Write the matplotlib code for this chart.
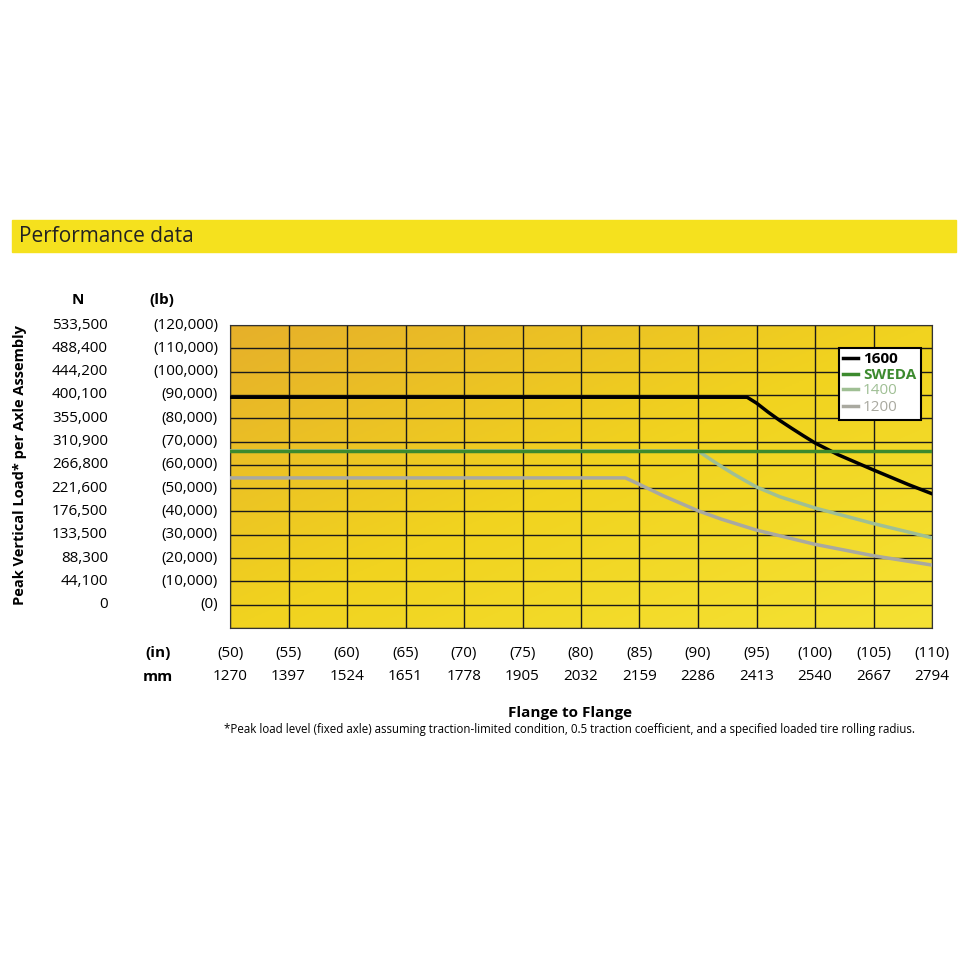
import numpy as np
import matplotlib.pyplot as plt
from matplotlib.colors import LinearSegmentedColormap
from matplotlib.transforms import blended_transform_factory

plt.rcParams['font.family'] = ['Open Sans', 'DejaVu Sans']

inches = [50, 55, 60, 65, 70, 75, 80, 85, 90, 95, 100, 105, 110]
mm = [1270, 1397, 1524, 1651, 1778, 1905, 2032, 2159, 2286, 2413, 2540, 2667, 2794]
lb_ticks = [0, 10000, 20000, 30000, 40000, 50000, 60000, 70000, 80000, 90000, 100000, 110000, 120000]
n_ticks = ['0', '44,100', '88,300', '133,500', '176,500', '221,600', '266,800',
           '310,900', '355,000', '400,100', '444,200', '488,400', '533,500']

x1600 = [50, 94.2, 95, 96, 97, 98, 99, 100, 102, 105, 108, 110]
y1600 = [89000, 89000, 86500, 82600, 79000, 75700, 72500, 69400, 64300, 57800, 51500, 47600]
xsweda = [50, 110]
ysweda = [66000, 66000]
x1400 = [50, 90, 91, 92, 93, 94, 95, 97, 100, 105, 110]
y1400 = [66000, 66000, 62600, 59300, 56200, 53300, 50500, 46300, 41500, 34800, 28700]
x1200 = [50, 83.8, 85, 87, 90, 92, 95, 100, 105, 110]
y1200 = [54400, 54400, 51600, 46800, 40300, 36700, 32000, 25900, 21000, 17000]

fig = plt.figure(figsize=(9.6, 9.6), dpi=100)
fig.patch.set_facecolor('white')

# title banner
fig.patches.append(plt.Rectangle((0.012, 1 - 252/960), 0.984, 32/960, transform=fig.transFigure,
                                 color='#f5e11e', zorder=0))
fig.text(0.02, 1 - 237/960, 'Performance data', fontsize=15, va='center', color='#222222')

ax = fig.add_axes([230/960, 1 - 628/960, 702/960, 303/960])
ax.set_xlim(50, 110)
ax.set_ylim(-10000, 120000)

# background gradient: orange top-left to yellow bottom-right
gx, gy = np.meshgrid(np.linspace(0, 1, 200), np.linspace(0, 1, 200))
g = (gx + gy) / 2
cmap = LinearSegmentedColormap.from_list('bg', ['#e6b02a', '#f1d31f', '#f5e234'])
ax.imshow(g, extent=[50, 110, -10000, 120000], aspect='auto', cmap=cmap, origin='upper', zorder=0)

ax.set_xticks(inches)
ax.set_yticks([-10000] + lb_ticks)
ax.grid(True, color='#1a1a1a', linewidth=1.0, zorder=1)
ax.tick_params(left=False, bottom=False, labelleft=False, labelbottom=False)
for s in ax.spines.values():
    s.set_color('#333333')

ax.plot(x1600, y1600, color='black', lw=2.5, label='1600', zorder=4)
ax.plot(xsweda, ysweda, color='#3c8a2e', lw=2.5, label='SWEDA', zorder=4)
ax.plot(x1400, y1400, color='#9fbf94', lw=2.5, label='1400', zorder=3)
ax.plot(x1200, y1200, color='#a9a9a0', lw=2.5, label='1200', zorder=3)

leg = ax.legend(loc='upper right', bbox_to_anchor=(0.995, 0.95), fancybox=False, framealpha=1,
                edgecolor='black', handlelength=1.0, handletextpad=0.3, borderpad=0.3,
                labelspacing=0.1, fontsize=11)
leg.get_frame().set_linewidth(1.5)
for t, c, w in zip(leg.get_texts(), ['black', '#3c8a2e', '#9fbf94', '#a9a9a0'],
                   ['bold', 'bold', 'normal', 'normal']):
    t.set_color(c)
    t.set_fontweight(w)

# y tick labels, two columns
ty = blended_transform_factory(fig.transFigure, ax.transData)
for v, n in zip(lb_ticks, n_ticks):
    fig.text(108/960, v, n, transform=ty, ha='right', va='center', fontsize=11)
    fig.text(218/960, v, '({:,})'.format(v), transform=ty, ha='right', va='center', fontsize=11)
fig.text(78/960, 1 - 300/960, 'N', ha='center', va='center', fontsize=11, fontweight='bold')
fig.text(162/960, 1 - 300/960, '(lb)', ha='center', va='center', fontsize=11, fontweight='bold')
fig.text(20/960, 1 - 465/960, 'Peak Vertical Load* per Axle Assembly', rotation=90,
         ha='center', va='center', fontsize=10.5, fontweight='bold')

# x tick labels, two rows
tx = blended_transform_factory(ax.transData, fig.transFigure)
for i, m in zip(inches, mm):
    fig.text(i, 1 - 653/960, '({})'.format(i), transform=tx, ha='center', va='center', fontsize=11)
    fig.text(i, 1 - 677/960, str(m), transform=tx, ha='center', va='center', fontsize=11)
fig.text(158/960, 1 - 653/960, '(in)', ha='center', va='center', fontsize=11, fontweight='bold')
fig.text(158/960, 1 - 677/960, 'mm', ha='center', va='center', fontsize=11, fontweight='bold')

fig.text(570/960, 1 - 713/960, 'Flange to Flange', ha='center', va='center', fontsize=11,
         fontweight='bold')
fig.text(570/960, 1 - 730/960, '*Peak load level (fixed axle) assuming traction-limited condition, '
         '0.5 traction coefficient, and a specified loaded tire rolling radius.',
         ha='center', va='center', fontsize=8.3)

fig.savefig('out.png', dpi=100)
